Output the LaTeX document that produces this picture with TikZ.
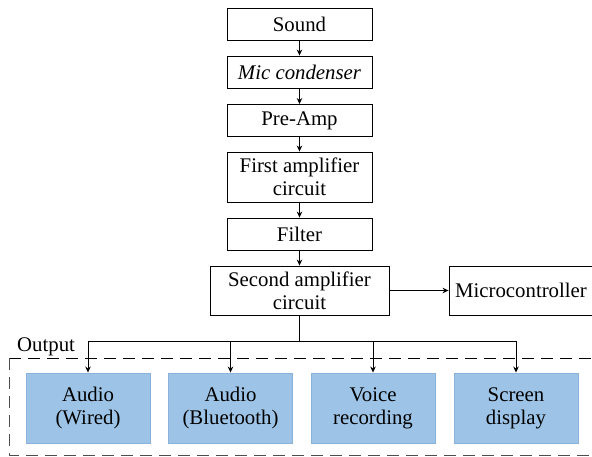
\documentclass[tikz,border=0pt]{standalone}
\usepackage{fontspec}
\setmainfont{Liberation Serif}
\usetikzlibrary{arrows.meta}
\definecolor{boxblue}{HTML}{9DC3E6}
\definecolor{boxedge}{HTML}{8AB2DD}
\tikzset{
  blk/.style={draw=black, line width=0.9pt, fill=white, inner sep=0pt, align=center,
    font=\fontsize{20.8}{22.8}\selectfont},
  outbox/.style={draw=boxedge, line width=0.9pt, fill=boxblue, inner sep=0pt, align=center,
    minimum width=124pt, minimum height=70pt, font=\fontsize{20.8}{22.8}\selectfont},
  arr/.style={line width=0.9pt, -{Stealth[length=6pt,width=5.5pt]}},
  ln/.style={line width=0.9pt}
}
\begin{document}
\begin{tikzpicture}[x=1pt,y=-1pt]
\useasboundingbox (0,0) rectangle (592,457);
\clip (0,0) rectangle (592,457);
% main chain
\node[blk, minimum width=145pt, minimum height=32pt] (sound) at (299.5,24) {Sound};
\node[blk, minimum width=145pt, minimum height=32pt] (mic) at (299.5,72) {\itshape Mic condenser};
\node[blk, minimum width=145pt, minimum height=32pt] (pre) at (299.5,120.5) {Pre-Amp};
\node[blk, minimum width=145pt, minimum height=50pt] (amp1) at (299.5,177) {First amplifier\\circuit};
\node[blk, minimum width=145pt, minimum height=32pt] (filt) at (299.5,234) {Filter};
\node[blk, minimum width=179pt, minimum height=49pt] (amp2) at (299.5,290.5) {Second amplifier\\circuit};
\node[blk, minimum width=144pt, minimum height=49pt] (mcu) at (521,290.5) {Microcontroller};
\draw[arr] (sound) -- (mic);
\draw[arr] (mic) -- (pre);
\draw[arr] (pre) -- (amp1);
\draw[arr] (amp1) -- (filt);
\draw[arr] (filt) -- (amp2);
\draw[arr] (amp2) -- (mcu);
% output group
\node[font=\fontsize{20.8}{22.8}\selectfont, inner sep=0pt, anchor=base west] (outlbl) at (17,351) {Output};
\draw[line width=1pt, dash pattern=on 12pt off 7pt] (9,358) -- (605,358);
\draw[line width=1pt, dash pattern=on 12pt off 7pt, draw=black!70] (9,358) -- (9,455) -- (605,455);
\node[outbox] (o1) at (88,408) {Audio\\(Wired)};
\node[outbox] (o2) at (230.5,408) {Audio\\(Bluetooth)};
\node[outbox] (o3) at (373,408) {Voice\\recording};
\node[outbox] (o4) at (516,408) {Screen\\display};
\coordinate (j) at (299.5,341);
\draw[ln] (amp2.south) -- (j);
\draw[arr] (j) -| (o1.north);
\draw[arr] (j) -| (o2.north);
\draw[arr] (j) -| (o3.north);
\draw[arr] (j) -| (o4.north);
\end{tikzpicture}
\end{document}
